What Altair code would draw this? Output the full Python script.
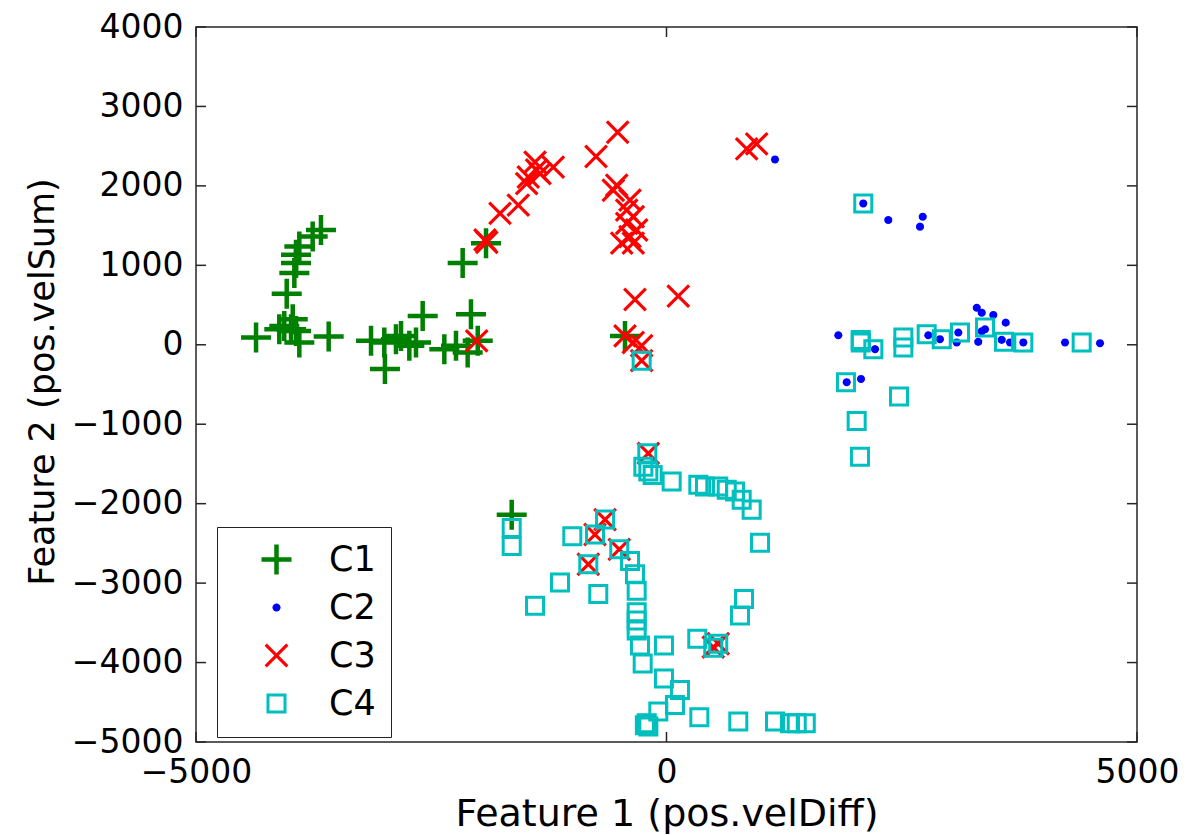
import math
import altair as alt
import pandas as pd

# ---------------- data ----------------
classes = ["C1", "C2", "C3", "C4"]

c1_x = [-3672, -3760, -3902, -3937, -3937, -3955, -4036, -3972, -4062, -4115, -3990, -3937,
        -3902, -4362, -3590, -3140, -2999, -2992, -2875, -2821, -2733, -2662, -2591, -2361,
        -2237, -2113, -2078, -2006, -2166, -1918, -441, -1645]
c1_y = [1445, 1362, 1237, 1133, 1029, 904, 641, 320, 237, 195, 195, 175,
        29, 91, 104, 50, 29, -305, 70, 112, -12, 29, 362, -55,
        -12, -96, 383, 50, 1029, 1279, 112, -2138]

c2_x = [1153, 2091, 2357, 2723, 2694, 1826, 2216, 1915, 2067, 2782, 2906, 3101, 3084,
        3313, 3297, 3350, 3473, 3385, 3350, 3605, 3562, 3650, 3792, 4235, 4607]
c2_y = [2333, 1779, 1570, 1612, 1487, 120, -55, -471, -430, 120, 70, 154, 29,
        37, 466, 404, 375, 195, 170, 279, 62, 29, 29, 29, 20]

c3_x = [-519, -749, -1203, -1397, -1344, -1469, -1486, -1380, -1575, -1769, -1929, -1910,
        -529, -565, -388, -423, -353, -423, -317, -388, -476, -353,
        -335, 125, -2017, -441, -353, -264, -264, 852, 958,
        -193, -653, -760, -502, -831, 550, 497]
c3_y = [2675, 2370, 2237, 2300, 2154, 2112, 2029, 2200, 1758, 1654, 1320, 1290,
        2008, 1945, 1820, 1695, 1612, 1529, 1445, 1362, 1279, 1279,
        570, 612, 50, 112, 29, -12, -200, 2466, 2529,
        -1367, -2200, -2388, -2575, -2763, -3763, -3805]

c4_x = [2091, 2064, 2064, 2198, 2517, 2517, 2765, 2925, 3119, 3385, 3587, 3792, 4412,
        1907, 2471, 2021, 2056,
        -204, -246, -193, -147, 55, 338, 409, 550, 640, 728, 799, 905, 994,
        -1645, -1645, -1001, -653, -760, -502, -831, -388, -335, -317, -1132, -1397,
        -725, -317, -317, -317, -282, -27, -253, 327, 550, 497, 781, 824,
        -27, 143, 90, -87, -210, -193, -230, 349, 763, 1153, 1312, 1384, 1480, -264]
c4_y = [1779, 29, 60, -55, 91, -34, 133, 70, 154, 216, 37, 29, 29,
        -471, -650, -959, -1409,
        -1367, -1534, -1596, -1638, -1721, -1763, -1784, -1784, -1825, -1846, -1950, -2075, -2492,
        -2305, -2534, -2409, -2200, -2388, -2575, -2763, -2721, -2888, -3096, -2992, -3284,
        -3138, -3367, -3471, -3596, -3784, -3784, -4013, -3700, -3763, -3813, -3409, -3200,
        -4200, -4346, -4534, -4617, -4763, -4805, -4790, -4688, -4743, -4743, -4763, -4763, -4763, -200]

x_ticks = [-5000, 0, 5000]
y_ticks = [-5000, -4000, -3000, -2000, -1000, 0, 1000, 2000, 3000, 4000]

colors = ["#008000", "#0000FF", "#FF0000", "#00BFBF"]

# ---------------- marker shapes (unit box -1..1) ----------------
def f(v):
    return f"{v:.3f}"

t = 0.15
plus_path = (f"M-1,{f(-t)}H{f(-t)}V-1H{f(t)}V{f(-t)}H1V{f(t)}H{f(t)}V1H{f(-t)}V{f(t)}H-1Z")

a, d = 0.72, 0.075
x_path = (f"M{f(-a+d)},{f(-a-d)}L{f(a+d)},{f(a-d)}L{f(a-d)},{f(a+d)}L{f(-a-d)},{f(-a+d)}Z"
          f"M{f(-a+d)},{f(a+d)}L{f(-a-d)},{f(a-d)}L{f(a-d)},{f(-a-d)}L{f(a+d)},{f(-a+d)}Z")

r = 0.27
n = 16
dot_path = "M" + "L".join(f"{f(r*math.cos(2*math.pi*k/n))},{f(r*math.sin(2*math.pi*k/n))}" for k in range(n)) + "Z"

so, si = 0.667, 0.467
sq_path = (f"M{f(-so)},{f(-so)}H{f(so)}V{f(so)}H{f(-so)}Z"
           f"M{f(-si)},{f(-si)}V{f(si)}H{f(si)}V{f(-si)}Z")

shapes = [plus_path, dot_path, x_path, sq_path]

# ---------------- table ----------------
frames = []
for cls, xs, ys in [("C1", c1_x, c1_y), ("C2", c2_x, c2_y), ("C3", c3_x, c3_y), ("C4", c4_x, c4_y)]:
    frames.append(pd.DataFrame({"x": xs, "y": ys, "cls": cls}))
df = pd.concat(frames, ignore_index=True)

W, H = 941, 715
xscale = alt.Scale(domain=[-5000, 5000], nice=False, zero=False)
yscale = alt.Scale(domain=[-5000, 4000], nice=False, zero=False)

xaxis = alt.Axis(values=x_ticks, format="d", labelPadding=14, labelFlush=False,
                 title="Feature 1 (pos.velDiff)", titleFontSize=38,
                 titleY=83, titleBaseline="alphabetic")
yaxis = alt.Axis(values=y_ticks, format="d", labelPadding=13, labelFlush=False,
                 title="Feature 2 (pos.velSum)", titleFontSize=35,
                 titleX=-143, titleY=H / 2 - 3, titleBaseline="alphabetic")

leg = alt.Legend(
    title=None, orient="none", legendX=21, legendY=500, direction="vertical",
    labelFont="DejaVu Sans", labelFontSize=35, labelColor="black",
    symbolSize=900, symbolStrokeWidth=0, symbolOpacity=1,
    padding=15, rowPadding=12, symbolOffset=27, labelOffset=35,
    strokeColor="#222222", fillColor="white", cornerRadius=0,
)

points = alt.Chart(df).mark_point(filled=True, size=900, opacity=1, strokeWidth=0).encode(
    x=alt.X("x:Q", scale=xscale, axis=xaxis),
    y=alt.Y("y:Q", scale=yscale, axis=yaxis),
    color=alt.Color("cls:N", scale=alt.Scale(domain=classes, range=colors), legend=leg),
    shape=alt.Shape("cls:N", scale=alt.Scale(domain=classes, range=shapes), legend=leg),
)

ydf = pd.DataFrame({"v": y_ticks})
xdf = pd.DataFrame({"v": x_ticks})
tick_style = dict(color="#262626", strokeWidth=1.5)

t_left = alt.Chart(ydf).mark_rule(**tick_style).encode(
    y=alt.Y("v:Q", scale=yscale, axis=yaxis), x=alt.value(0), x2=alt.value(10))
t_right = alt.Chart(ydf).mark_rule(**tick_style).encode(
    y=alt.Y("v:Q", scale=yscale, axis=yaxis), x=alt.value(W - 10), x2=alt.value(W))
t_bottom = alt.Chart(xdf).mark_rule(**tick_style).encode(
    x=alt.X("v:Q", scale=xscale, axis=xaxis), y=alt.value(H - 10), y2=alt.value(H))
t_top = alt.Chart(xdf).mark_rule(**tick_style).encode(
    x=alt.X("v:Q", scale=xscale, axis=xaxis), y=alt.value(0), y2=alt.value(10))

chart = alt.layer(points, t_left, t_right, t_bottom, t_top).properties(
    width=W, height=H,
    autosize=alt.AutoSizeParams(type="none"),
    padding={"left": 188, "top": 19, "right": 50, "bottom": 93},
).configure_view(
    stroke="#262626", strokeWidth=1.5
).configure_axis(
    grid=False, domain=False, ticks=False,
    labelFont="DejaVu Sans", labelFontSize=33, labelColor="black",
    titleFont="DejaVu Sans", titleColor="black", titleFontWeight="normal",
)

chart.save("out.html", embed_options={"renderer": "svg", "actions": False})
